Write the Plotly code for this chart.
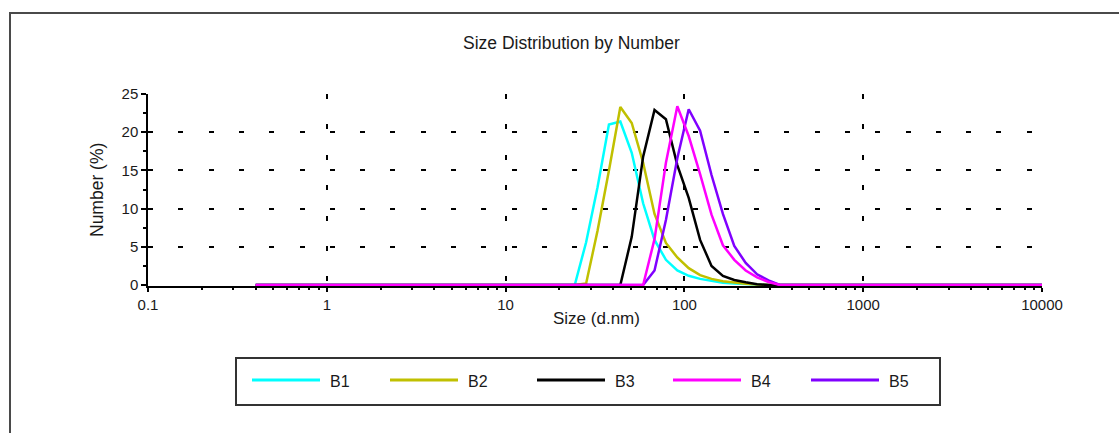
import plotly.graph_objects as go

# ---------------- data ----------------
sizes = [0.4, 0.4632, 0.5365, 0.6213, 0.7195, 0.8332, 0.9649, 1.117, 1.294, 1.499,
         1.736, 2.010, 2.328, 2.696, 3.122, 3.615, 4.187, 4.849, 5.615, 6.503,
         7.531, 8.721, 10.10, 11.70, 13.54, 15.69, 18.17, 21.04, 24.36, 28.21,
         32.67, 37.84, 43.82, 50.75, 58.77, 68.06, 78.82, 91.28, 105.7, 122.4,
         141.8, 164.2, 190.1, 220.2, 255.0, 295.3, 342.0, 396.1, 458.7, 531.2,
         615.1, 712.4, 825.0, 955.4, 1106, 1281, 1484, 1718, 1990, 2305,
         2669, 3091, 3580, 4145, 4801, 5560, 6439, 7456, 8635, 10000]

b1 = [0, 0, 0, 0, 0, 0, 0, 0, 0, 0,
      0, 0, 0, 0, 0, 0, 0, 0, 0, 0,
      0, 0, 0, 0, 0, 0, 0, 0, 0, 5.6,
      12.8, 21.0, 21.4, 17.3, 10.7, 5.9, 3.3, 1.9, 1.2, 0.8,
      0.5, 0.3, 0.2, 0.1, 0.05, 0, 0, 0, 0, 0,
      0, 0, 0, 0, 0, 0, 0, 0, 0, 0,
      0, 0, 0, 0, 0, 0, 0, 0, 0, 0]

b2 = [0, 0, 0, 0, 0, 0, 0, 0, 0, 0,
      0, 0, 0, 0, 0, 0, 0, 0, 0, 0,
      0, 0, 0, 0, 0, 0, 0, 0, 0, 0.2,
      7.1, 15.0, 23.3, 21.2, 16.0, 9.3, 5.5, 3.6, 2.2, 1.3,
      0.8, 0.5, 0.3, 0.15, 0.05, 0, 0, 0, 0, 0,
      0, 0, 0, 0, 0, 0, 0, 0, 0, 0,
      0, 0, 0, 0, 0, 0, 0, 0, 0, 0]

b3 = [0, 0, 0, 0, 0, 0, 0, 0, 0, 0,
      0, 0, 0, 0, 0, 0, 0, 0, 0, 0,
      0, 0, 0, 0, 0, 0, 0, 0, 0, 0,
      0, 0, 0, 6.3, 16.8, 22.9, 21.7, 15.7, 11.4, 5.9,
      2.5, 1.2, 0.65, 0.35, 0.1, 0, 0, 0, 0, 0,
      0, 0, 0, 0, 0, 0, 0, 0, 0, 0,
      0, 0, 0, 0, 0, 0, 0, 0, 0, 0]

b4 = [0, 0, 0, 0, 0, 0, 0, 0, 0, 0,
      0, 0, 0, 0, 0, 0, 0, 0, 0, 0,
      0, 0, 0, 0, 0, 0, 0, 0, 0, 0,
      0, 0, 0, 0, 0, 6.0, 16.0, 23.4, 19.5, 14.5,
      9.2, 5.2, 3.3, 1.9, 1.0, 0.4, 0, 0, 0, 0,
      0, 0, 0, 0, 0, 0, 0, 0, 0, 0,
      0, 0, 0, 0, 0, 0, 0, 0, 0, 0]

b5 = [0, 0, 0, 0, 0, 0, 0, 0, 0, 0,
      0, 0, 0, 0, 0, 0, 0, 0, 0, 0,
      0, 0, 0, 0, 0, 0, 0, 0, 0, 0,
      0, 0, 0, 0, 0, 1.9, 8.5, 16.6, 23.0, 20.2,
      14.4, 9.3, 5.1, 2.9, 1.4, 0.6, 0, 0, 0, 0,
      0, 0, 0, 0, 0, 0, 0, 0, 0, 0,
      0, 0, 0, 0, 0, 0, 0, 0, 0, 0]

series_names = ["B1", "B2", "B3", "B4", "B5"]
series_colors = ["#00FFFF", "#C0C000", "#000000", "#FF00FF", "#8000FF"]
series_values = [b1, b2, b3, b4, b5]

x_tick_vals = [0.1, 1, 10, 100, 1000, 10000]
x_tick_text = ["0.1", "1", "10", "100", "1000", "10000"]
y_tick_vals = [0, 5, 10, 15, 20, 25]

# ---------------- layout geometry (pixels) ----------------
W, H = 1119, 433
PL, PR, PT, PB = 148, 1042, 94, 286   # plot area edges


def px_x(px):
    return (px - PL) / (PR - PL)


def px_y(py):
    return (PB - py) / (PB - PT)


FONT = "Liberation Sans, Arial, sans-serif"
TXT = "#1a1a1a"

fig = go.Figure()
draw_order = [0, 1, 2, 4, 3]
for i in draw_order:
    fig.add_trace(go.Scatter(
        x=sizes, y=series_values[i], mode="lines", name=series_names[i],
        line=dict(color=series_colors[i], width=2.5),
        showlegend=False, hoverinfo="x+y+name"))

fig.update_layout(
    width=W, height=H,
    margin=dict(l=PL, r=W - PR, t=PT, b=H - PB, pad=0),
    paper_bgcolor="white", plot_bgcolor="white",
    font=dict(family=FONT, size=15, color=TXT),
    showlegend=False,
)

fig.update_xaxes(
    type="log", range=[-1, 4],
    tickmode="array", tickvals=x_tick_vals, ticktext=x_tick_text,
    ticks="outside", ticklen=4, tickwidth=1.5, tickcolor="black",
    tickfont=dict(size=15, color=TXT),
    showline=True, linecolor="black", linewidth=1.5,
    showgrid=True, gridcolor="black", gridwidth=1.8, griddash="5px,25.4px",
    zeroline=False, layer="below traces",
    minor=dict(ticks="outside", ticklen=2, tickwidth=1.5, tickcolor="black",
               dtick="D1", showgrid=False),
)
fig.update_yaxes(
    range=[-0.131, 25],
    tickmode="array", tickvals=y_tick_vals,
    ticks="outside", ticklen=5, tickwidth=1.5, tickcolor="black",
    tickfont=dict(size=15, color=TXT),
    showline=True, linecolor="black", linewidth=1.5,
    showgrid=True, gridcolor="black", gridwidth=1.8, griddash="5px,25.3px",
    zeroline=False, layer="below traces",
    minor=dict(ticks="outside", ticklen=3, tickwidth=1.5, tickcolor="black",
               dtick=2.5, tick0=0, showgrid=False),
)

shapes = []
annotations = []

# outer frame
shapes.append(dict(type="rect", xref="paper", yref="paper",
                   x0=px_x(10), x1=px_x(1130), y0=px_y(445), y1=px_y(13),
                   line=dict(color="#4a4a4a", width=2), fillcolor="rgba(0,0,0,0)",
                   layer="below"))

# titles
annotations.append(dict(text="Size Distribution by Number", xref="paper", yref="paper",
                        x=px_x(571), y=px_y(43), xanchor="center", yanchor="middle",
                        showarrow=False, font=dict(size=17.5, color=TXT)))
annotations.append(dict(text="Number (%)", xref="paper", yref="paper",
                        x=px_x(97), y=px_y(190), xanchor="center", yanchor="middle",
                        textangle=-90, showarrow=False, font=dict(size=17.5, color=TXT)))
annotations.append(dict(text="Size (d.nm)", xref="paper", yref="paper",
                        x=px_x(596), y=px_y(318), xanchor="center", yanchor="middle",
                        showarrow=False, font=dict(size=17, color=TXT)))

# legend box
shapes.append(dict(type="rect", xref="paper", yref="paper",
                   x0=px_x(236), x1=px_x(940), y0=px_y(405), y1=px_y(358),
                   line=dict(color="#333333", width=2), fillcolor="white"))
leg_line_start = [252, 390, 537, 673, 811]
LEG_LEN, LEG_Y, LEG_GAP = 68, 380, 8
for name, color, x0 in zip(series_names, series_colors, leg_line_start):
    shapes.append(dict(type="line", xref="paper", yref="paper",
                       x0=px_x(x0), x1=px_x(x0 + LEG_LEN), y0=px_y(LEG_Y), y1=px_y(LEG_Y),
                       line=dict(color=color, width=3)))
    annotations.append(dict(text=name, xref="paper", yref="paper",
                            x=px_x(x0 + LEG_LEN + LEG_GAP), y=px_y(LEG_Y + 1),
                            xanchor="left", yanchor="middle", showarrow=False,
                            font=dict(size=16, color=TXT)))

fig.update_layout(shapes=shapes, annotations=annotations)
fig.write_html("out.html")
